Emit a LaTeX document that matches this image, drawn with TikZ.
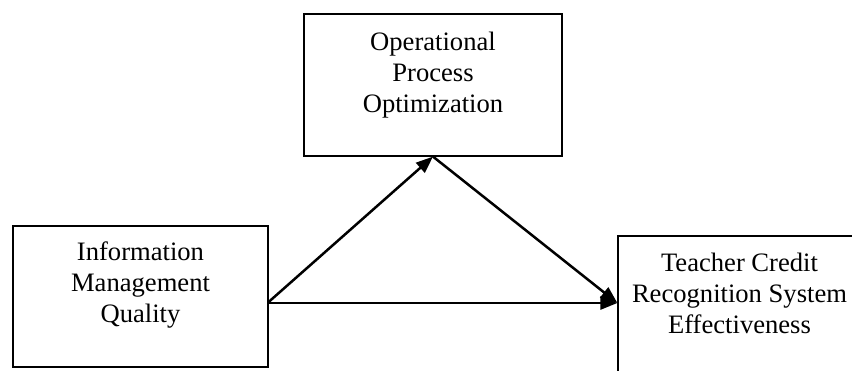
\documentclass[tikz,border=0pt]{standalone}
\usepackage{fontspec}
\setmainfont{Liberation Serif}
\usetikzlibrary{arrows.meta}
\begin{document}
\begin{tikzpicture}[x=1pt,y=-1pt,
  box/.style={draw, line width=1.2pt, rectangle, inner sep=0pt},
  lbl/.style={anchor=north, align=center, inner sep=0pt, font=\fontsize{26.6}{31}\selectfont},
  conn/.style={line width=2.5pt, -{Triangle[length=17pt,width=13pt]}}]
\useasboundingbox (0,0) rectangle (852,370);
\clip (0,0) rectangle (852,370);
\node[box, minimum width=340pt, minimum height=154pt] (R) at (788,313) {};
\node[box, minimum width=255pt, minimum height=141pt] (L) at (140.5,296.5) {};
\node[box, minimum width=258pt, minimum height=142pt] (T) at (433,85) {};
\node[lbl] (Lt) at (140.5,242) {Information\\Management\\Quality};
\node[lbl] (Tt) at (433,32) {Operational\\Process\\Optimization};
\node[lbl] (Rt) at (739.5,253) {Teacher Credit\\Recognition System\\Effectiveness};
\draw[conn] ([yshift=-5.5pt]L.east) -- (T.south);
\draw[conn] (T.south) -- ([yshift=10pt]R.west);
\draw[conn] ([yshift=-6.5pt]L.east) -- ([yshift=10pt]R.west);
\end{tikzpicture}
\end{document}
